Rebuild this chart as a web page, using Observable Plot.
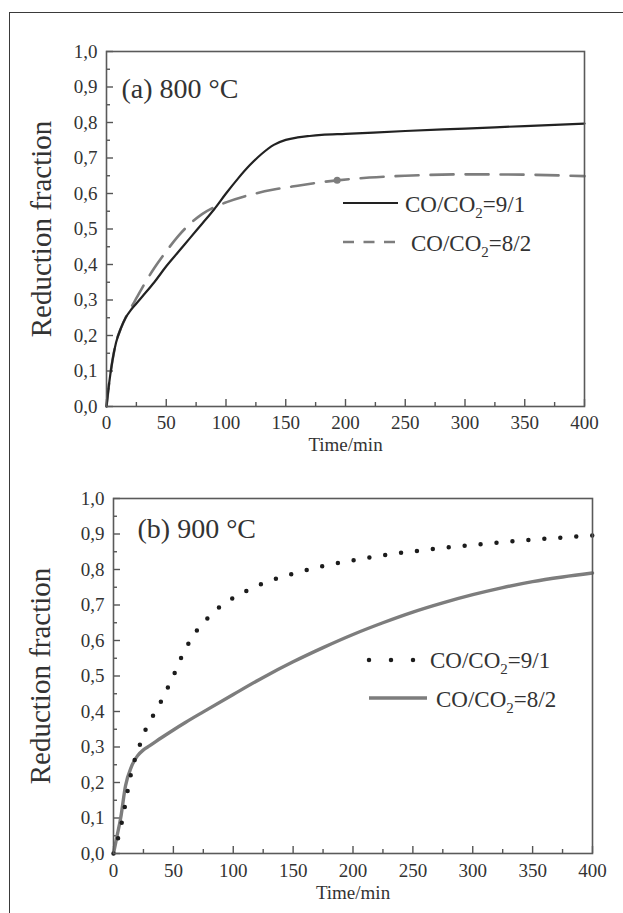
<!DOCTYPE html>
<html><head><meta charset="utf-8">
<script src="https://cdn.jsdelivr.net/npm/d3@7"></script>
<script src="https://cdn.jsdelivr.net/npm/@observablehq/plot@0.6"></script>
<style>
html,body{margin:0;padding:0;background:#fff;}
#wrap{position:relative;width:623px;height:913px;overflow:hidden;font-family:"Liberation Serif",serif;background:#fff;}
#wrap svg, #wrap svg text{font-family:"Liberation Serif",serif !important;}
#border{position:absolute;left:9px;top:12px;width:700px;height:950px;border-top:1.5px solid #3a3a3a;border-left:1.5px solid #3a3a3a;}
.panel{position:absolute;left:0;}
#legend{position:absolute;left:0;top:0;}
</style></head><body><div id="wrap"><div id="border"></div></div>
<script>
// ---- ticks ----
const xTicks = [0, 50, 100, 150, 200, 250, 300, 350, 400];
const xMinor = [25, 75, 125, 175, 225, 275, 325, 375];
const yTicks = [0, 0.1, 0.2, 0.3, 0.4, 0.5, 0.6, 0.7, 0.8, 0.9, 1.0];
const yMinor = [0.05, 0.15, 0.25, 0.35, 0.45, 0.55, 0.65, 0.75, 0.85, 0.95];

// ---- panel (a) 800 °C ----
const timeA91 = [0, 2, 5, 8, 12, 16, 20, 25, 30, 40, 50, 60, 70, 80, 90, 100, 110, 120, 130, 140, 150, 160, 170, 180, 200, 250, 300, 350, 400];
const fracA91 = [0, 0.06, 0.13, 0.18, 0.22, 0.25, 0.27, 0.29, 0.31, 0.35, 0.395, 0.435, 0.475, 0.515, 0.555, 0.60, 0.642, 0.68, 0.712, 0.737, 0.751, 0.758, 0.762, 0.765, 0.768, 0.776, 0.783, 0.79, 0.797];
const timeA82 = [0, 2, 5, 8, 12, 16, 20, 25, 30, 40, 50, 60, 70, 80, 90, 100, 120, 140, 160, 180, 193, 220, 250, 300, 350, 400];
const fracA82 = [0, 0.06, 0.13, 0.18, 0.22, 0.25, 0.275, 0.305, 0.335, 0.39, 0.437, 0.48, 0.515, 0.542, 0.561, 0.575, 0.596, 0.611, 0.622, 0.632, 0.637, 0.645, 0.650, 0.654, 0.653, 0.649];
const markerA82 = [{t: 193, f: 0.637}];

// ---- panel (b) 900 °C ----
const timeB91 = [0, 2, 5, 8, 12, 16, 20, 25, 30, 35, 40, 45, 50, 55, 60, 65, 70, 75, 80, 85, 90, 100, 110, 120, 130, 140, 150, 175, 200, 225, 250, 275, 300, 325, 350, 375, 400];
const fracB91 = [0, 0.02, 0.06, 0.105, 0.18, 0.245, 0.285, 0.335, 0.37, 0.40, 0.43, 0.465, 0.50, 0.54, 0.575, 0.605, 0.63, 0.65, 0.668, 0.685, 0.698, 0.72, 0.738, 0.754, 0.767, 0.779, 0.788, 0.81, 0.826, 0.84, 0.851, 0.861, 0.869, 0.877, 0.884, 0.89, 0.896];
const timeB82 = [0, 3, 6, 10, 15, 20, 25, 30, 40, 50, 60, 75, 100, 125, 150, 175, 200, 225, 250, 275, 300, 325, 350, 375, 400];
const fracB82 = [0, 0.05, 0.10, 0.19, 0.245, 0.275, 0.292, 0.303, 0.326, 0.348, 0.369, 0.399, 0.448, 0.496, 0.54, 0.58, 0.617, 0.65, 0.68, 0.706, 0.729, 0.749, 0.766, 0.779, 0.79];

const seriesLabels = ["CO/CO2=9/1", "CO/CO2=8/2"];

const FONT = "'Liberation Serif', serif";
const zip = (ts, fs) => ts.map((t, i) => ({t, f: fs[i]}));
const fmtY = d => d.toFixed(1).replace(".", ",");

function panel({top, height, mt, mb, ml, mr, title, titleDx, titleDy, timeDy, ylabDx, xPad, lines}) {
  const p = Plot.plot({
    width: 623, height,
    marginTop: mt, marginBottom: mb, marginLeft: ml, marginRight: mr,
    x: {domain: [0, 400]},
    y: {domain: [0, 1]},
    style: {fontFamily: FONT, fontSize: "19px", color: "#333", background: "transparent"},
    marks: [
      Plot.axisX({ticks: xTicks, tickSize: 0, tickPadding: xPad, tickFormat: d => String(d), label: null, fontSize: 19, fontFamily: FONT}),
      Plot.axisY({ticks: yTicks, tickSize: 0, tickPadding: 9, tickFormat: fmtY, label: null, fontSize: 19, fontFamily: FONT}),
      Plot.ruleX(xTicks, {x: d => d, y1: 0, y2: 0, insetBottom: 7, stroke: "#555", strokeWidth: 1.4}),
      Plot.ruleX(xMinor, {x: d => d, y1: 0, y2: 0, insetBottom: 4, stroke: "#555", strokeWidth: 1.4}),
      Plot.ruleY(yTicks, {y: d => d, x1: 0, x2: 0, insetRight: -7, stroke: "#555", strokeWidth: 1.4}),
      Plot.ruleY(yMinor, {y: d => d, x1: 0, x2: 0, insetRight: -4, stroke: "#555", strokeWidth: 1.4}),
      ...lines,
      Plot.frame({stroke: "#5a5a5a", strokeWidth: 1.6}),
      Plot.text([title], {frameAnchor: "top-left", textAnchor: "start", lineAnchor: "top", dx: titleDx, dy: titleDy, fontSize: 28, fontFamily: FONT, fill: "#333"}),
      Plot.text(["Time/min"], {frameAnchor: "bottom", textAnchor: "middle", lineAnchor: "middle", dy: timeDy, fontSize: 19, fontFamily: FONT, fill: "#333"}),
      Plot.text(["Reduction fraction"], {frameAnchor: "left", textAnchor: "middle", rotate: -90, lineAnchor: "middle", dx: ylabDx, fontSize: 29, fontFamily: FONT, fill: "#333"})
    ]
  });
  p.classList.add("panel");
  p.style.top = top + "px";
  document.getElementById("wrap").appendChild(p);
}

panel({
  top: 0, height: 455, mt: 51, mb: 49, ml: 106, mr: 39,
  title: "(a) 800 °C", titleDx: 15, titleDy: 27, timeDy: 38, ylabDx: -65, xPad: 9,
  lines: [
    Plot.line(zip(timeA82, fracA82), {x: "t", y: "f", stroke: "#7d7d7d", strokeWidth: 2.6, strokeDasharray: "23 12", curve: "monotone-x"}),
    Plot.dot(markerA82, {x: "t", y: "f", r: 3.5, fill: "#7d7d7d"}),
    Plot.line(zip(timeA91, fracA91), {x: "t", y: "f", stroke: "#222", strokeWidth: 2.2, curve: "monotone-x"})
  ]
});

panel({
  top: 455, height: 458, mt: 43, mb: 60, ml: 113, mr: 31,
  title: "(b) 900 °C", titleDx: 24, titleDy: 20, timeDy: 39, ylabDx: -73, xPad: 10,
  lines: [
    Plot.line(zip(timeB82, fracB82), {x: "t", y: "f", stroke: "#7d7d7d", strokeWidth: 3.4, curve: "monotone-x"}),
    Plot.line(zip(timeB91, fracB91), {x: "t", y: "f", stroke: "#1c1c1c", strokeWidth: 4.5, strokeDasharray: "0 16", strokeLinecap: "round", curve: "monotone-x"})
  ]
});

// ---- legends ----
const NS = "http://www.w3.org/2000/svg";
const leg = document.createElementNS(NS, "svg");
leg.setAttribute("id", "legend");
leg.setAttribute("width", 623);
leg.setAttribute("height", 913);
document.getElementById("wrap").appendChild(leg);
function el(tag, attrs, parent = leg) {
  const e = document.createElementNS(NS, tag);
  for (const k in attrs) e.setAttribute(k, attrs[k]);
  parent.appendChild(e);
  return e;
}
function label(x, y, txt) {
  const t = el("text", {x, y, "font-family": FONT, "font-size": 23, fill: "#333"});
  const [a, rest] = txt.split("2=");
  t.appendChild(document.createTextNode(a));
  const s = el("tspan", {dy: 6, "font-size": 15}, t);
  s.textContent = "2";
  const r = el("tspan", {dy: -6}, t);
  r.textContent = "=" + rest;
}
// panel a
el("line", {x1: 343, x2: 398, y1: 203, y2: 203, stroke: "#222", "stroke-width": 2.2});
label(405, 212, seriesLabels[0]);
el("line", {x1: 343, x2: 399, y1: 242, y2: 242, stroke: "#7d7d7d", "stroke-width": 2.6, "stroke-dasharray": "11 9.5"});
label(411, 251, seriesLabels[1]);
// panel b
el("line", {x1: 369, x2: 414, y1: 660, y2: 660, stroke: "#1c1c1c", "stroke-width": 4.5, "stroke-dasharray": "0 22", "stroke-linecap": "round"});
label(430, 668, seriesLabels[0]);
el("line", {x1: 369, x2: 427, y1: 698, y2: 698, stroke: "#7d7d7d", "stroke-width": 3.4});
label(436, 707, seriesLabels[1]);
</script></body></html>
